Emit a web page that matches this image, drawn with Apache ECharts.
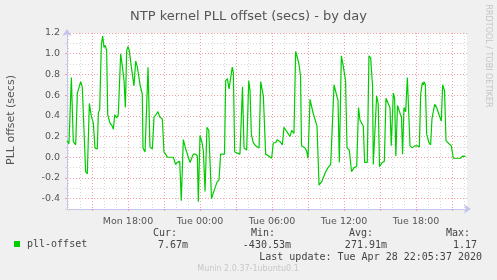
<!DOCTYPE html>
<html>
<head>
<meta charset="utf-8">
<script src="https://cdn.jsdelivr.net/npm/echarts@6/dist/echarts.min.js"></script>
<style>
  html, body { margin: 0; padding: 0; background: #f0f0f0; }
  #chart { width: 497px; height: 280px; }
</style>
</head>
<body>
<div id="chart"></div>
<script>
// time axis: hours since Mon 00:00 (24 = Tue 00:00)
const HOURS = [
  12.92, 13.08, 13.28, 13.44, 13.64, 13.78, 13.92, 14.06, 14.19, 14.47,
  14.61, 14.78, 14.94, 15.11, 15.25, 15.44, 15.53, 15.64, 15.78, 15.89,
  16.00, 16.11, 16.22, 16.31, 16.50, 16.69, 16.78, 16.89, 17.06, 17.19,
  17.39, 17.53, 17.67, 17.78, 17.89, 18.00, 18.11, 18.28, 18.50, 18.64,
  18.78, 19.00, 19.19, 19.25, 19.42, 19.56, 19.67, 19.83, 20.03, 20.17,
  20.33, 20.50, 20.64, 20.86, 21.00, 21.14, 21.28, 21.78, 21.97, 22.11,
  22.31, 22.44, 22.61, 22.81, 22.94, 23.17, 23.28, 23.44, 23.64, 23.78,
  23.86, 24.00, 24.17, 24.28, 24.42, 24.58, 24.73, 24.96, 25.21, 25.42,
  25.58, 25.72, 26.04, 26.14, 26.28, 26.42, 26.56, 26.69, 26.78, 26.89,
  27.33, 27.54, 27.61, 27.67, 27.89, 28.06, 28.17, 28.28, 28.44, 28.64,
  28.92, 29.06, 29.28, 29.47, 29.75, 29.97, 30.11, 30.31, 30.44, 30.67,
  30.86, 31.00, 31.28, 31.50, 31.64, 31.83, 31.97, 32.08, 32.25, 32.38,
  32.46, 32.75, 32.89, 33.00, 33.17, 33.29, 33.44, 33.75, 33.92, 34.17,
  34.47, 34.67, 34.89, 35.04, 35.17, 35.36, 35.50, 35.61, 35.78, 35.94,
  36.13, 36.25, 36.44, 36.63, 36.83, 37.06, 37.21, 37.33, 37.61, 37.72,
  37.94, 38.08, 38.22, 38.38, 38.44, 38.56, 38.72, 38.85, 38.96, 39.19,
  39.36, 39.50, 39.63, 39.83, 39.94, 40.11, 40.22, 40.32, 40.46, 40.71,
  40.79, 40.88, 41.00, 41.14, 41.28, 41.36, 41.50, 41.69, 41.89, 42.11,
  42.28, 42.39, 42.53, 42.61, 42.67, 42.78, 42.89, 43.08, 43.22, 43.33,
  43.44, 43.56, 43.72, 43.92, 44.11, 44.22, 44.38, 44.50, 44.75, 44.94,
  45.11, 45.72, 45.86, 46.14
];
const OFFSET = [
  0.16, 0.13, 0.77, 0.15, 0.12, 0.62, 0.62, 0.73, 0.68, -0.14,
  -0.16, 0.52, 0.40, 0.33, 0.09, 0.08, 0.43, 0.46, 1.09, 1.17,
  1.06, 1.08, 1.03, 0.41, 0.33, 0.30, 0.27, 0.41, 0.38, 0.41,
  1.00, 0.88, 0.74, 0.48, 1.03, 1.07, 1.03, 0.87, 0.69, 0.93,
  0.87, 0.70, 0.61, 0.09, 0.05, 0.05, 0.87, 0.10, 0.08, 0.39,
  0.41, 0.44, 0.39, 0.37, 0.05, 0.03, 0.00, 0.00, -0.07, -0.05,
  -0.04, -0.42, 0.17, 0.08, 0.07, -0.05, -0.05, 0.03, 0.03, 0.01,
  -0.43, 0.21, 0.14, 0.06, -0.33, 0.29, 0.26, -0.40, -0.31, -0.24,
  -0.22, 0.03, 0.03, 0.74, 0.76, 0.66, 0.66, 0.87, 0.82, 0.05,
  0.03, 0.68, 0.69, 0.09, 0.07, 0.74, 0.64, 0.22, 0.14, 0.11,
  0.09, 0.73, 0.59, 0.03, 0.01, -0.01, 0.14, 0.14, 0.17, 0.15,
  0.12, 0.29, 0.24, 0.20, 0.26, 0.23, 1.02, 0.98, 0.90, 0.78,
  0.11, 0.09, 0.06, -0.01, 0.56, 0.56, 0.42, 0.30, -0.27, -0.23,
  -0.14, -0.10, -0.07, -0.06, 0.70, 0.61, 0.55, -0.05, 0.98, 0.88,
  0.74, 0.09, 0.07, -0.14, -0.10, -0.09, 0.48, 0.36, 0.30, -0.05,
  -0.05, 0.98, 0.96, 0.69, -0.07, -0.07, 0.59, 0.52, -0.09, -0.05,
  -0.04, 0.57, 0.57, 0.48, 0.11, 0.62, 0.57, 0.01, 0.50, 0.41,
  0.39, 0.03, 0.48, 0.44, 0.77, 0.78, 0.11, 0.09, 0.11, 0.11,
  0.10, 0.61, 0.72, 0.70, 0.73, 0.70, 0.22, 0.14, 0.12, 0.37,
  0.37, 0.51, 0.48, 0.41, 0.35, 0.70, 0.64, 0.16, 0.13, 0.11,
  -0.01, -0.01, 0.01, 0.0077
];

const X_MIN = 12.9167;  // Mon 12:55
const X_MAX = 46.25;    // Tue 22:15
const HOUR_TICKS = [13, 14, 15, 16, 17, 18, 19, 20, 21, 22, 23, 24, 25, 26, 27, 28, 29,
  30, 31, 32, 33, 34, 35, 36, 37, 38, 39, 40, 41, 42, 43, 44, 45, 46];
const MAJOR_HOUR_TICKS = [15, 18, 21, 24, 27, 30, 33, 36, 39, 42, 45];
const LABEL_HOURS = [18, 24, 30, 36, 42];
const LABEL_TEXT = ["Mon 18:00", "Tue 00:00", "Tue 06:00", "Tue 12:00", "Tue 18:00"];
const Y_MAJOR = [-0.4, -0.2, 0, 0.2, 0.4, 0.6, 0.8, 1.0, 1.2];

const SERIES_NAME = "pll-offset";
const STAT_NAMES = ["Cur:", "Min:", "Avg:", "Max:"];
const STAT_VALUES = ["7.67m", "-430.53m", "271.91m", "1.17"];
const LAST_UPDATE = "Last update: Tue Apr 28 22:05:37 2020";

const GREEN = "#00cc00";
const MINOR = "#d8d8d8";
const MAJOR = "#f0a0a0";
const AXIS = "#c4c4f0";
const SANS = "DejaVu Sans";
const MONO = "DejaVu Sans Mono";

const chart = echarts.init(document.getElementById("chart"));

const hiddenX = (ticks, color) => ({
  type: "value", min: X_MIN, max: X_MAX, position: "bottom",
  axisLine: { show: false, onZero: false },
  axisTick: { show: true, customValues: ticks, length: 2, lineStyle: { color } },
  axisLabel: { show: false },
  splitLine: { show: true, lineStyle: { color, type: [1, 2], width: 1 } }
});

// Cur/Min/Avg/Max block under the plot
const statText = [];
const nameRight = [177, 275, 373, 470];
const valueRight = [188, 291, 387, 477];
STAT_NAMES.forEach((n, i) => {
  statText.push({ type: "text", x: nameRight[i], y: 233,
    style: { text: n, font: `10px "${MONO}"`, fill: "#444", align: "right", verticalAlign: "middle", textAlign: "right", textVerticalAlign: "middle" } });
  statText.push({ type: "text", x: valueRight[i], y: 245,
    style: { text: STAT_VALUES[i], font: `10px "${MONO}"`, fill: "#444", align: "right", verticalAlign: "middle", textAlign: "right", textVerticalAlign: "middle" } });
});

chart.setOption({
  backgroundColor: "#f0f0f0",
  animation: false,
  title: {
    text: "NTP kernel PLL offset (secs) - by day",
    left: "center", top: 5,
    textStyle: { fontFamily: SANS, fontSize: 13, fontWeight: "normal", color: "#555" }
  },
  grid: { left: 67, right: 30, top: 33, bottom: 71, show: true, backgroundColor: "#fff", borderWidth: 0 },
  legend: {
    data: [SERIES_NAME], left: 14, top: 239, padding: 0, itemWidth: 6, itemHeight: 6, icon: "rect",
    textStyle: { fontFamily: MONO, fontSize: 10, color: "#444", padding: [0, 0, 0, 2] }
  },
  xAxis: [
    hiddenX(HOUR_TICKS, MINOR),
    hiddenX(MAJOR_HOUR_TICKS, MAJOR),
    {
      type: "value", min: X_MIN, max: X_MAX, position: "bottom",
      axisLine: { show: true, onZero: false, symbol: ["none", "arrow"], symbolSize: [7, 7], symbolOffset: [0, 4], lineStyle: { color: AXIS } },
      axisTick: { show: false },
      splitLine: { show: false },
      axisLabel: {
        customValues: LABEL_HOURS, margin: 8,
        fontFamily: SANS, fontSize: 9.5, color: "#555",
        formatter: v => LABEL_TEXT[LABEL_HOURS.indexOf(Math.round(v))]
      }
    }
  ],
  yAxis: [
    {
      type: "value", min: -0.5, max: 1.2, interval: 0.1, position: "left",
      axisLine: { show: false, onZero: false },
      axisTick: { show: true, length: 2, lineStyle: { color: MINOR } },
      axisLabel: { show: false },
      splitLine: { show: true, lineStyle: { color: MINOR, type: [1, 2], width: 1 } }
    },
    {
      type: "value", min: -0.5, max: 1.2, position: "left",
      axisLine: { show: true, onZero: false, symbol: ["none", "arrow"], symbolSize: [7, 7], symbolOffset: [0, 4], lineStyle: { color: AXIS } },
      axisTick: { show: true, customValues: Y_MAJOR, length: 2, lineStyle: { color: MAJOR } },
      axisLabel: { customValues: Y_MAJOR, margin: 7, fontFamily: SANS, fontSize: 9.5, color: "#555",
        formatter: v => v.toFixed(1) },
      splitLine: { show: true, lineStyle: { color: MAJOR, type: [1, 2], width: 1 } }
    }
  ],
  graphic: [
    { type: "text", x: 11, y: 120, rotation: Math.PI / 2,
      style: { text: "PLL offset (secs)", font: `11px "${SANS}"`, fill: "#555", align: "center", verticalAlign: "middle", textAlign: "center", textVerticalAlign: "middle" } },
    { type: "text", x: 488, y: 56, rotation: -Math.PI / 2,
      style: { text: "RRDTOOL / TOBI OETIKER", font: `8px "${SANS}"`, fill: "#c4c4c4", align: "center", verticalAlign: "middle", textAlign: "center", textVerticalAlign: "middle" } },
    ...statText,
    { type: "text", x: 482, y: 257,
      style: { text: LAST_UPDATE, font: `10px "${MONO}"`, fill: "#444", align: "right", verticalAlign: "middle", textAlign: "right", textVerticalAlign: "middle" } },
    { type: "text", x: 248, y: 269,
      style: { text: "Munin 2.0.37-1ubuntu0.1", font: `8px "${SANS}"`, fill: "#c8c8c8", align: "center", verticalAlign: "middle", textAlign: "center", textVerticalAlign: "middle" } }
  ],
  series: [{
    name: SERIES_NAME,
    type: "line",
    xAxisIndex: 2,
    yAxisIndex: 1,
    showSymbol: false,
    lineStyle: { color: GREEN, width: 1.2 },
    itemStyle: { color: GREEN },
    data: HOURS.map((h, i) => [h, OFFSET[i]])
  }]
});
</script>
</body>
</html>
